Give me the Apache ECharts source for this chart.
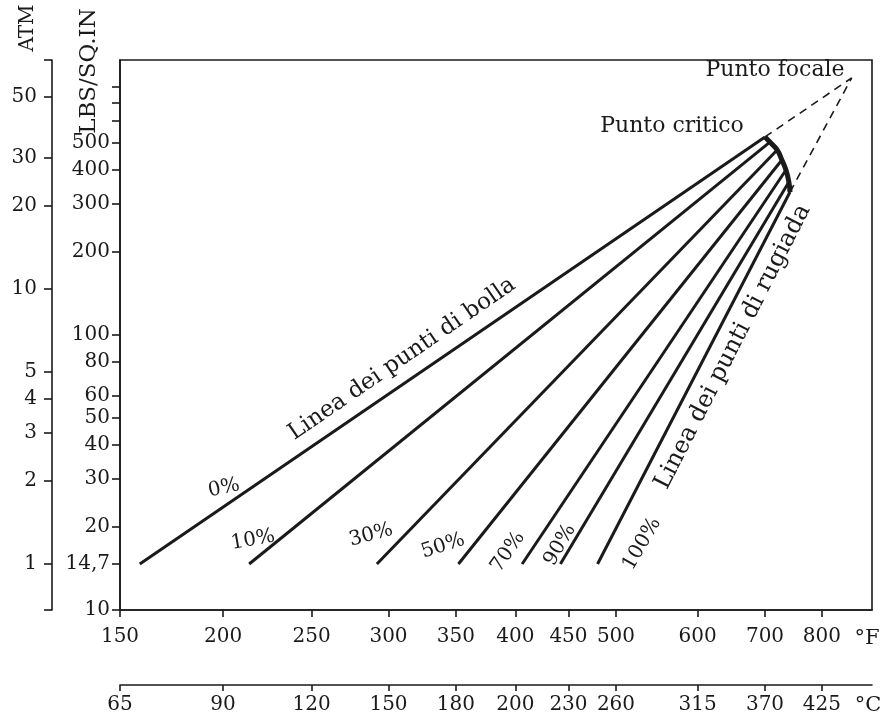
<!DOCTYPE html>
<html><head><meta charset="utf-8">
<script src="https://cdn.jsdelivr.net/npm/echarts@6/dist/echarts.min.js"></script>
<style>html,body{margin:0;padding:0;background:#fff}#c{width:893px;height:722px}</style>
</head><body><div id="c"></div>
<script>
// ---------------- data ----------------
const F_TICKS = [150, 200, 250, 300, 350, 400, 450, 500, 600, 700, 800];
// rounded Celsius equivalents printed under each Fahrenheit tick
const C_TICKS = [65, 90, 120, 150, 180, 200, 230, 260, 315, 370, 425];
const PSI_TICKS = [10, 14.7, 20, 30, 40, 50, 60, 80, 100, 200, 300, 400, 500];
const PSI_TICK_LABELS = ['10', '14,7', '20', '30', '40', '50', '60', '80', '100', '200', '300', '400', '500'];
const PSI_MINOR_TICKS = [600, 700, 800];
const ATM_TICKS = [1, 2, 3, 4, 5, 10, 20, 30, 50];
const PSI_PER_ATM = 14.7;
const F_RANGE = [150, 904];
const PSI_RANGE = [10, 1000];

const COMPOSITIONS = ['0%', '10%', '30%', '50%', '70%', '90%', '100%'];
const START_F   = [159, 214, 292, 352, 406, 442, 480];   // at 14.7 psi
const START_PSI = [14.7, 14.7, 14.7, 14.7, 14.7, 14.7, 14.7];
const END_F     = [700, 708, 720, 728, 735, 740, 742];   // on the critical locus
const END_PSI   = [525, 503, 471, 433, 398, 360, 331];
const FOCAL_F = 860;
const FOCAL_PSI = 861;

// ---------------- scales ----------------
const xu = f => -1000 / (f + 460);          // -1/T (Rankine)
const yl = p => Math.log10(p);               // log pressure

const FONT = '"DejaVu Serif", "Liberation Serif", serif';
const INK = '#1a1a1a';
const axisLine = { show: true, lineStyle: { color: INK, width: 1.6 } };

const series = [];
COMPOSITIONS.forEach((name, i) => {
  series.push({
    type: 'line', name, symbol: 'none', silent: true,
    lineStyle: { color: INK, width: 3 },
    data: [[xu(START_F[i]), yl(START_PSI[i])], [xu(END_F[i]), yl(END_PSI[i])]]
  });
});
series.push({
  type: 'line', name: 'locus', symbol: 'none', smooth: true, silent: true,
  lineStyle: { color: INK, width: 5 },
  data: END_F.map((f, i) => [xu(f), yl(END_PSI[i])])
});
[0, END_F.length - 1].forEach(i => {
  series.push({
    type: 'line', symbol: 'none', silent: true,
    lineStyle: { color: INK, width: 1.6, type: [8, 6] },
    data: [[xu(END_F[i]), yl(END_PSI[i])], [xu(FOCAL_F), yl(FOCAL_PSI)]]
  });
});

function txt(text, x, y, size, rot) {
  return {
    type: 'text', x, y, rotation: (rot || 0) * Math.PI / 180, silent: true,
    style: { text, fill: INK, font: size + 'px ' + FONT, align: 'center', verticalAlign: 'middle' }
  };
}
const fIndex = v => F_TICKS.findIndex(f => Math.abs(xu(f) - v) < 1e-9);

const TICK_FONT = 20;
const option = {
  animation: false,
  backgroundColor: '#fff',
  grid: { left: 120, top: 60, right: 21, bottom: 112, show: true, borderColor: INK, borderWidth: 1.6, backgroundColor: 'transparent' },
  xAxis: [
    {
      type: 'value', min: xu(F_RANGE[0]), max: xu(F_RANGE[1]), position: 'bottom',
      axisLine, splitLine: { show: false },
      axisTick: { customValues: F_TICKS.map(xu), length: 7, lineStyle: { color: INK, width: 1.6 } },
      axisLabel: { customValues: F_TICKS.map(xu), formatter: v => { const i = fIndex(v); return i >= 0 ? String(F_TICKS[i]) : ''; },
        margin: 17, fontFamily: FONT, fontSize: TICK_FONT, color: INK }
    },
    {
      type: 'value', min: xu(F_RANGE[0]), max: xu(F_RANGE[1]), position: 'bottom', offset: 75,
      axisLine, splitLine: { show: false },
      axisTick: { customValues: F_TICKS.map(xu), length: 6, lineStyle: { color: INK, width: 1.6 } },
      axisLabel: { customValues: F_TICKS.map(xu),
        formatter: v => { const i = fIndex(v); return i >= 0 ? String(C_TICKS[i]) : ''; },
        margin: 10, fontFamily: FONT, fontSize: TICK_FONT, color: INK }
    }
  ],
  yAxis: [
    {
      type: 'value', min: yl(PSI_RANGE[0]), max: yl(PSI_RANGE[1]), position: 'left',
      axisLine, splitLine: { show: false },
      axisTick: { customValues: PSI_TICKS.concat(PSI_MINOR_TICKS).map(yl), length: 8, lineStyle: { color: INK, width: 1.6 } },
      axisLabel: { customValues: PSI_TICKS.map(yl),
        formatter: v => { const i = PSI_TICKS.findIndex(p => Math.abs(yl(p) - v) < 1e-6); return i >= 0 ? PSI_TICK_LABELS[i] : ''; },
        margin: 10, fontFamily: FONT, fontSize: TICK_FONT, color: INK }
    },
    {
      type: 'value', min: yl(PSI_RANGE[0]), max: yl(PSI_RANGE[1]), position: 'left', offset: 68,
      axisLine, splitLine: { show: false },
      axisTick: { customValues: ATM_TICKS.map(a => yl(a * PSI_PER_ATM)).concat([yl(PSI_RANGE[0]), yl(PSI_RANGE[1])]),
        length: 8, lineStyle: { color: INK, width: 1.6 } },
      axisLabel: { customValues: ATM_TICKS.map(a => yl(a * PSI_PER_ATM)),
        formatter: v => String(Math.round(Math.pow(10, v) / PSI_PER_ATM)),
        margin: 15, fontFamily: FONT, fontSize: TICK_FONT, color: INK }
    }
  ],
  series,
  graphic: [
    txt('ATM', 28, 28, 20, 90),
    txt('LBS/SQ.IN', 89, 71, 23, 90),
    txt('°F', 867, 639, 21, 0),
    txt('°C', 868, 706, 21, 0),
    txt('Punto critico', 672, 126, 22, 0),
    txt('Punto focale', 775, 70, 22, 0),
    txt('Linea dei punti di bolla', 402, 359, 23, 34.5),
    txt('Linea dei punti di rugiada', 733, 347, 24, 63),
    txt('0%', 224, 488, 20, 12),
    txt('10%', 253, 540, 20, 10),
    txt('30%', 371, 535, 20, 15),
    txt('50%', 443, 546, 20, 18),
    txt('70%', 508, 552, 20, 55),
    txt('90%', 560, 545, 20, 60),
    txt('100%', 642, 544, 20, 60)
  ]
};
echarts.init(document.getElementById('c'), null, { renderer: 'canvas' }).setOption(option);
</script></body></html>
